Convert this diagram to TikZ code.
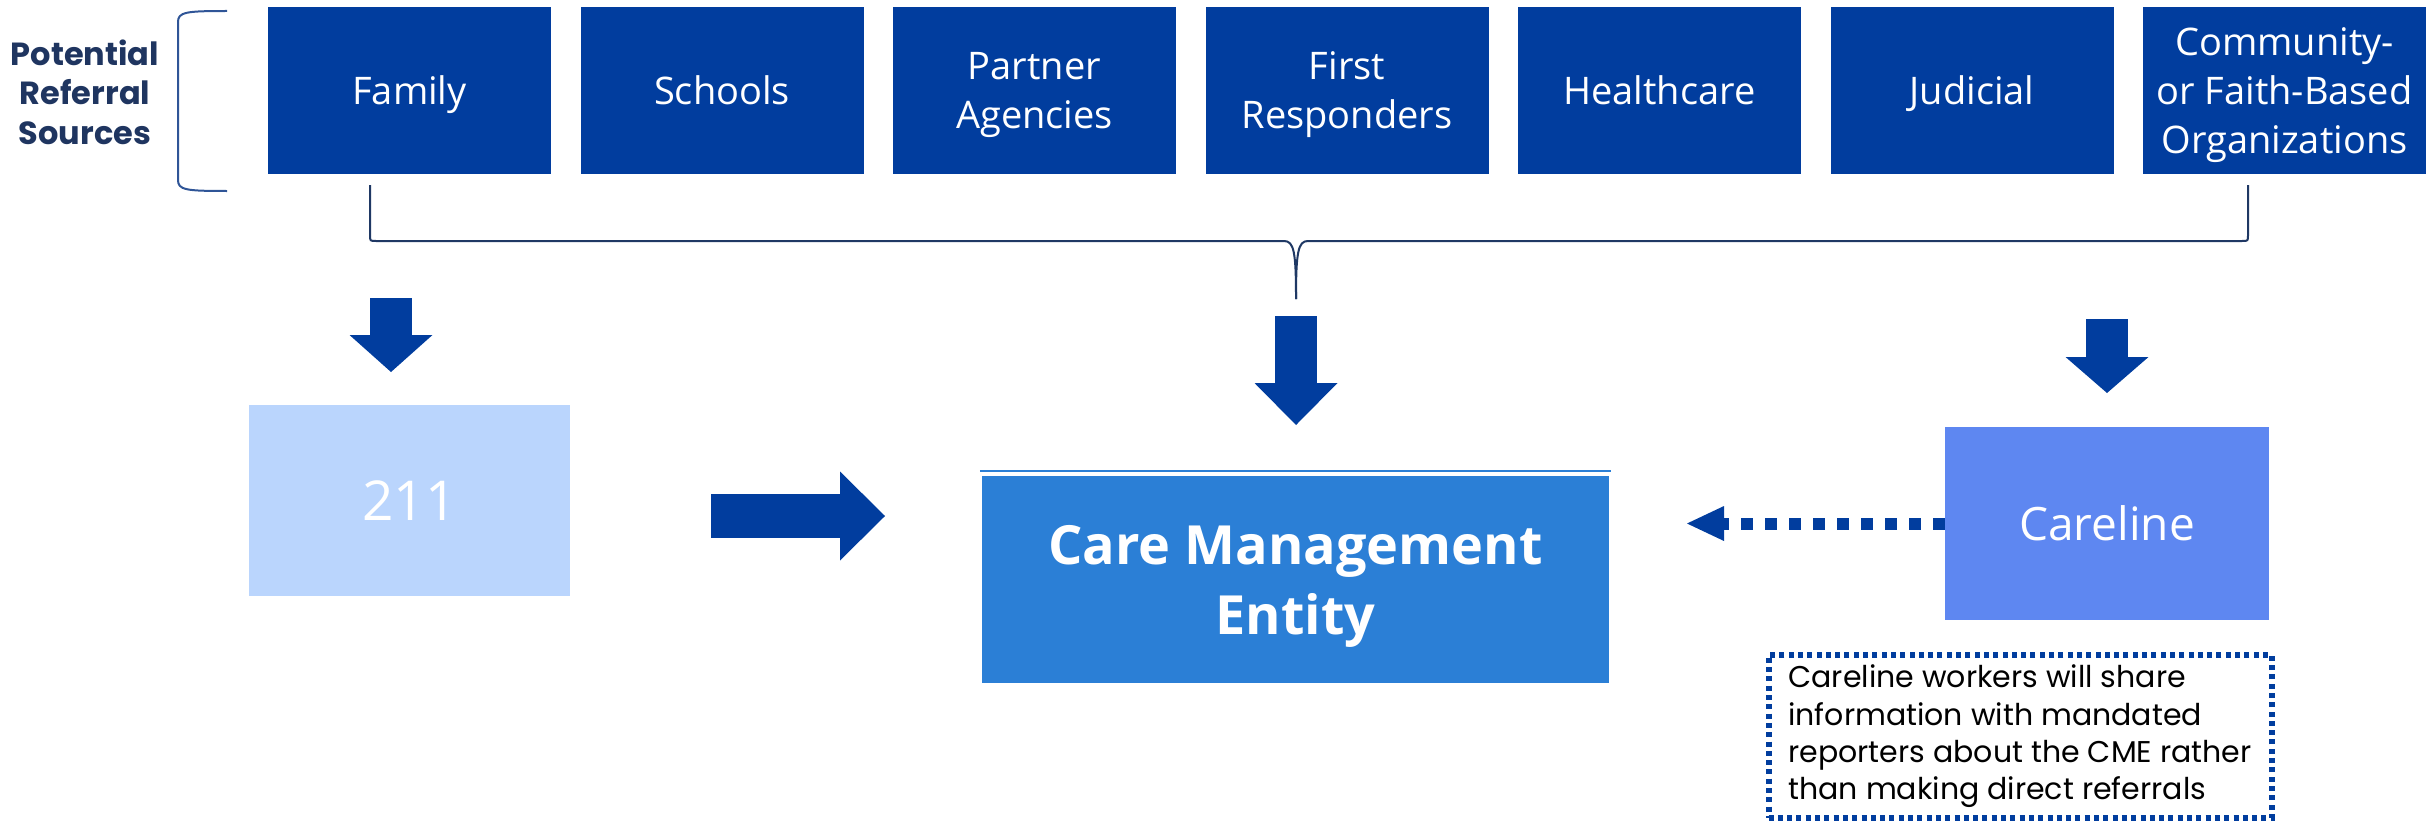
\documentclass[tikz,border=0pt]{standalone}
\usepackage{fontspec}
\setmainfont{Open Sans}
\newfontfamily\poppins{Poppins}
\usetikzlibrary{arrows.meta}
\usetikzlibrary{calc}

\definecolor{biruTua}{RGB}{1,61,158}
\definecolor{biruMuda}{RGB}{186,213,253}
\definecolor{biruCME}{RGB}{43,127,214}
\definecolor{biruCare}{RGB}{94,135,241}
\definecolor{navy}{RGB}{31,53,96}
\definecolor{garisKurung}{RGB}{47,85,151}
\definecolor{garisKurawal}{RGB}{31,56,100}

\tikzset{
  sumber/.style={fill=biruTua, text=white, minimum width=283pt, minimum height=167pt,
    inner sep=0pt, text depth=0pt, align=center, font=\fontsize{38}{49}\selectfont},
  kotak/.style={inner sep=0pt, text=white, align=center},
  judul/.style={text=navy, align=center, inner sep=0pt, font=\poppins\bfseries\fontsize{32}{39.5}\selectfont},
  kurung/.style={garisKurung, line width=2pt},
  kurawal/.style={garisKurawal, line width=2pt},
  panah/.style={biruTua, line width=42pt, -{Triangle[length=#1, width=83pt, line width=0pt]}},
  panah/.default=38pt,
  catatan/.style={draw=biruTua, line width=6pt, dash pattern=on 5pt off 4.3pt,
    minimum width=503pt, minimum height=163pt, inner sep=0pt, align=left, text=black,
    font=\poppins\fontsize{30}{37.3}\selectfont}
}

\begin{document}
\begin{tikzpicture}[x=1pt, y=-1pt]
    \useasboundingbox (0,0) rectangle (2432,824);

    % judul sumber rujukan
    \node[judul] (judul) at (85,92) {Potential\\Referral\\Sources};
    \draw[kurung] (227,11) .. controls (186,11) and (178,12) .. (178,22) -- (178,180)
        .. controls (178,190) and (186,191) .. (227,191);

    % kotak-kotak sumber
    \node[sumber] (keluarga)  at (409.5,90.5)  {Family};
    \node[sumber] (sekolah)   at (722,90.5)    {Schools};
    \node[sumber] (mitra)     at (1034.5,90.5) {Partner\\Agencies};
    \node[sumber] (responden) at (1347,90.5)   {First\\Responders};
    \node[sumber] (kesehatan) at (1659.5,90.5) {Healthcare};
    \node[sumber] (peradilan) at (1972,90.5)   {Judicial};
    \node[sumber] (komunitas) at (2284.5,90.5) {Community-\\or Faith-Based\\Organizations};

    % kurung kurawal bawah
    \coordinate (Ki) at (370,185);
    \coordinate (Ka) at (2248,185);
    \coordinate (Te) at (1296,299);
    \draw[kurawal] (Ki) -- (370,235) .. controls (370,241) .. (376,241) -- (1284,241)
        .. controls (1294,241) and (1296,252) .. (Te);
    \draw[kurawal] (Ka) -- (2248,235) .. controls (2248,241) .. (2242,241) -- (1308,241)
        .. controls (1298,241) and (1296,252) .. (Te);

    % kotak-kotak tujuan
    \node[kotak, fill=biruMuda, minimum width=321pt, minimum height=191pt,
        font=\fontsize{55}{66}\selectfont] (dua) at (409.5,500.5) {211};
    \node[kotak, fill=biruCME, minimum width=627pt, minimum height=207pt, text depth=0pt,
        font=\bfseries\fontsize{54}{70}\selectfont] (cme) at (1295.5,579.5) {Care Management\\Entity};
    \draw[biruCME, line width=2.5pt] ([xshift=-2pt,yshift=5pt]cme.north west)
        -- ([xshift=2pt,yshift=5pt]cme.north east);
    \node[kotak, fill=biruCare, minimum width=324pt, minimum height=193pt,
        font=\fontsize{46}{56}\selectfont] (careline) at (2107,523.5) {Careline};

    % catatan
    \node[catatan] (catatan) at (2020,736.5) {Careline workers will share\\information with mandated\\reporters about the CME rather\\than making direct referrals};

    % titik-titik panah
    \coordinate (A1) at (391,298);
    \coordinate (A2) at (391,372);
    \coordinate (B1) at (1296,316);
    \coordinate (B2) at (1296,425);
    \coordinate (C1) at (2107,319);
    \coordinate (C2) at (2107,393);
    \coordinate (D1) at (711,516);
    \coordinate (D2) at (885,516);
    \coordinate (E2) at (1687,523.5);

    % pembuatan panah
    \draw[panah=37pt] (A1) -- (A2);
    \draw[panah=42pt] (B1) -- (B2);
    \draw[panah=36pt] (C1) -- (C2);
    \draw[biruTua, line width=44pt, -{Triangle[length=45pt, width=89pt, line width=0pt]}] (D1) -- (D2);
    \draw[biruTua, line width=12pt, dash pattern=on 12pt off 12pt,
        -{Triangle[length=37pt, width=35pt, line width=0pt]}] (careline.west) -- (E2);
\end{tikzpicture}
\end{document}
